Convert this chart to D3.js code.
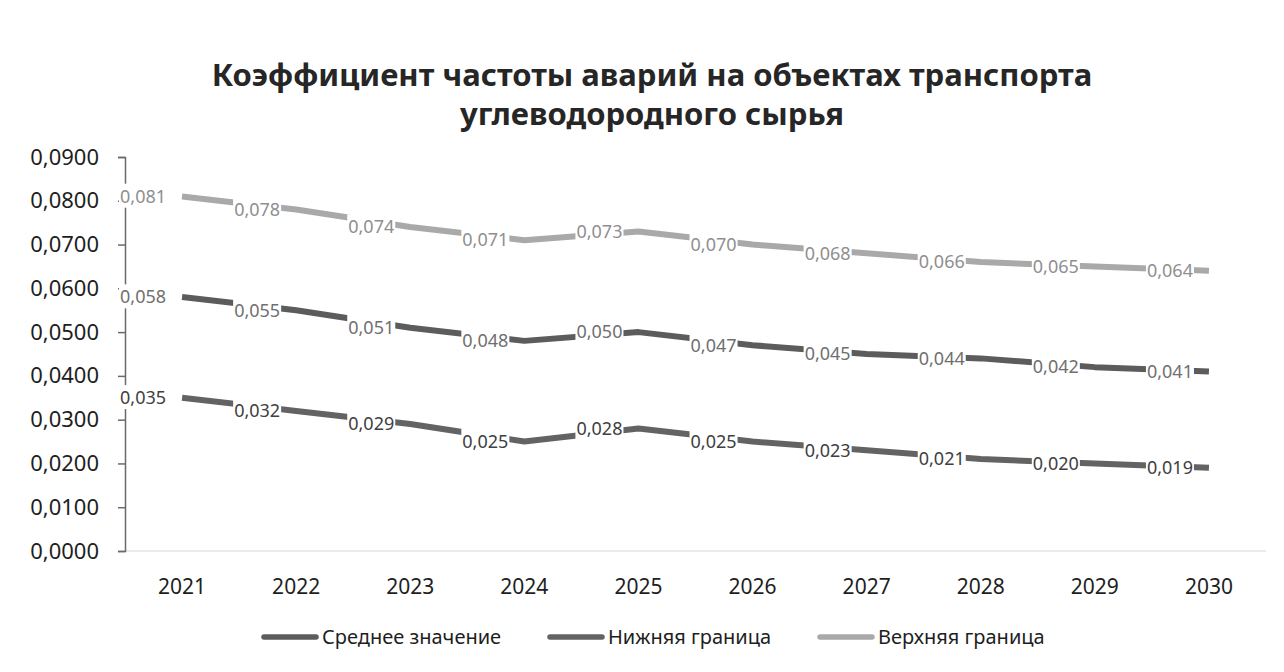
<!DOCTYPE html>
<html><head><meta charset="utf-8">
<script src="https://cdn.jsdelivr.net/npm/d3@7"></script>
<style>body{margin:0;background:#fff}svg{display:block}</style>
</head><body>
<svg id="c" width="1284" height="672"></svg>
<script>
const years = ["2021","2022","2023","2024","2025","2026","2027","2028","2029","2030"];
const meanValues = [0.058,0.055,0.051,0.048,0.050,0.047,0.045,0.044,0.042,0.041];
const lowerValues = [0.035,0.032,0.029,0.025,0.028,0.025,0.023,0.021,0.020,0.019];
const upperValues = [0.081,0.078,0.074,0.071,0.073,0.070,0.068,0.066,0.065,0.064];
const seriesNames = ["Среднее значение","Нижняя граница","Верхняя граница"];
const yTicks = [0,0.01,0.02,0.03,0.04,0.05,0.06,0.07,0.08,0.09];
const titleLines = ["Коэффициент частоты аварий на объектах транспорта","углеводородного сырья"];

const series = [
  {name: seriesNames[0], values: meanValues, color:"#5c5c5c", label:"#707070"},
  {name: seriesNames[1], values: lowerValues, color:"#636363", label:"#404040"},
  {name: seriesNames[2], values: upperValues, color:"#a9a9a9", label:"#8f8f8f"}
];
const FONT = "'Noto Sans', 'Open Sans', sans-serif";
const svg = d3.select("#c").style("font-family", FONT);

const x = d3.scaleBand().domain(years).range([125, 1266]);
const y = d3.scaleLinear().domain([0, 0.09]).range([551, 157]);
const fmt4 = v => d3.format(".4f")(v).replace(".", ",");
const fmt3 = v => d3.format(".3f")(v).replace(".", ",");

// title
svg.selectAll("text.title").data(titleLines).join("text")
  .attr("class","title")
  .attr("x", 652).attr("y", (d,i) => 86 + i*39)
  .attr("text-anchor","middle")
  .attr("font-size", 31).attr("font-weight","bold").attr("fill","#262626")
  .text(d => d);

// x axis (faint)
svg.append("line").attr("x1",125).attr("x2",1266).attr("y1",y(0)).attr("y2",y(0))
  .attr("stroke","#e4e4e4").attr("stroke-width",1.5);

// y axis
const yAxis = d3.axisLeft(y).tickValues(yTicks).tickFormat(fmt4).tickSize(7).tickPadding(19);
const gy = svg.append("g").attr("transform","translate(125,0)").call(yAxis);
gy.select(".domain").attr("stroke","#6a6a6a").attr("stroke-width",1.5);
gy.selectAll(".tick line").attr("stroke","#6a6a6a").attr("stroke-width",1.5);
gy.selectAll(".tick text").attr("font-size",22).attr("fill","#1e1e1e").attr("font-family",FONT);

// x labels
const xAxis = d3.axisBottom(x).tickSize(0).tickPadding(0);
const gx = svg.append("g").attr("transform","translate(0,594)").call(xAxis);
gx.select(".domain").remove();
gx.selectAll(".tick text").attr("font-size",21).attr("fill","#1e1e1e").attr("font-family",FONT).attr("dy","0");

// lines
const line = d3.line().x((d,i) => x(years[i]) + x.bandwidth()/2).y(d => y(d));
series.forEach(s => {
  svg.append("path").attr("d", line(s.values)).attr("fill","none")
    .attr("stroke", s.color).attr("stroke-width",6).attr("stroke-linejoin","round");
});

// data labels (left of point)
series.forEach(s => {
  const g = svg.append("g");
  s.values.forEach((v,i) => {
    const px = x(years[i]) + x.bandwidth()/2, py = y(v);
    const t = g.append("text").attr("x", px - 16).attr("y", py).attr("dy","0.35em")
      .attr("text-anchor","end").attr("font-size",18).attr("fill", s.label).text(fmt3(v));
    const bb = t.node().getBBox();
    g.insert("rect", "text").attr("x", bb.x-1).attr("y", bb.y).attr("width", bb.width+2).attr("height", bb.height)
      .attr("fill","#fff");
  });
});

// legend
const legendX = [262, 548, 818];
series.forEach((s,i) => {
  const g = svg.append("g").attr("transform", `translate(${legendX[i]},637)`);
  g.append("line").attr("x1",2).attr("x2",54).attr("y1",0).attr("y2",0)
    .attr("stroke", s.color).attr("stroke-width",5.5).attr("stroke-linecap","round");
  g.append("text").attr("x",60).attr("y",0).attr("dy","0.35em").attr("font-size",20)
    .attr("fill","#1e1e1e").text(s.name);
});
</script>
</body></html>
